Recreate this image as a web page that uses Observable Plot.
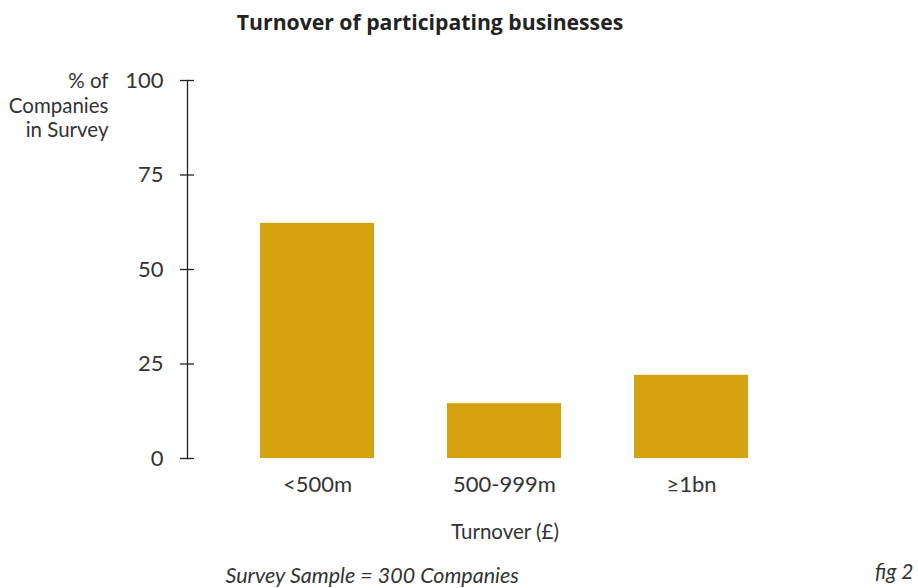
<!DOCTYPE html>
<html>
<head>
<meta charset="utf-8">
<script src="https://cdn.jsdelivr.net/npm/d3@7"></script>
<script src="https://cdn.jsdelivr.net/npm/@observablehq/plot@0.6"></script>
<style>
  html, body { margin: 0; padding: 0; background: #fff; }
  svg { font-family: Lato, "Open Sans", sans-serif; }
</style>
</head>
<body>
<div id="chart"></div>
<script>
const categories = ["<500m", "500-999m", "\u22651bn"];
const values = [62.2, 14.5, 22.0];
const yTicks = [0, 25, 50, 75, 100];
const title = "Turnover of participating businesses";
const yLabel = "% of\nCompanies\nin Survey";
const xLabel = "Turnover (\u00a3)";
const caption = "Survey Sample = 300 Companies";
const figLabel = "fig 2";

const data = categories.map((c, i) => ({category: c, value: values[i]}));

const chart = Plot.plot({
  width: 918,
  height: 588,
  marginTop: 80,
  marginBottom: 130,
  marginLeft: 187,
  marginRight: 96,
  style: {fontFamily: "Lato, 'Open Sans', sans-serif", color: "#333"},
  x: {domain: categories, padding: 0.39, label: null},
  y: {domain: [0, 100], label: null},
  marks: [
    Plot.barY(data, {x: "category", y: "value", fill: "#d4a20e"}),
    Plot.frame({anchor: "left", stroke: "#222", strokeWidth: 1.3}),
    Plot.axisY({ticks: yTicks, tickSize: 14, dx: 7, tickPadding: 17, fontSize: 22, label: null, stroke: "#222", strokeWidth: 1.3, fill: "#333"}),
    Plot.axisX({tickSize: 0, tickPadding: 18, fontSize: 22, label: null, fill: "#333"}),
    Plot.text([yLabel], {frameAnchor: "top-left", dx: -79, dy: -10, textAnchor: "end", lineAnchor: "top", lineHeight: 1.2, fontSize: 20.5, fill: "#333"}),
    Plot.text([xLabel], {frameAnchor: "bottom", dy: 80, fontSize: 20.5, fill: "#333"}),
    Plot.text([caption], {frameAnchor: "bottom-left", dx: 38, dy: 124, textAnchor: "start", fontSize: 21.5, fontStyle: "italic", fill: "#333"}),
    Plot.text([figLabel], {frameAnchor: "bottom-right", dx: 91, dy: 120, textAnchor: "end", fontSize: 21, fontStyle: "italic", fill: "#333"}),
    Plot.text([title], {frameAnchor: "top", dx: -75, dy: -66, fontSize: 21.2, fontWeight: "bold", fontFamily: "'Open Sans', sans-serif", fill: "#222"})
  ]
});
document.getElementById("chart").appendChild(chart);
</script>
</body>
</html>
